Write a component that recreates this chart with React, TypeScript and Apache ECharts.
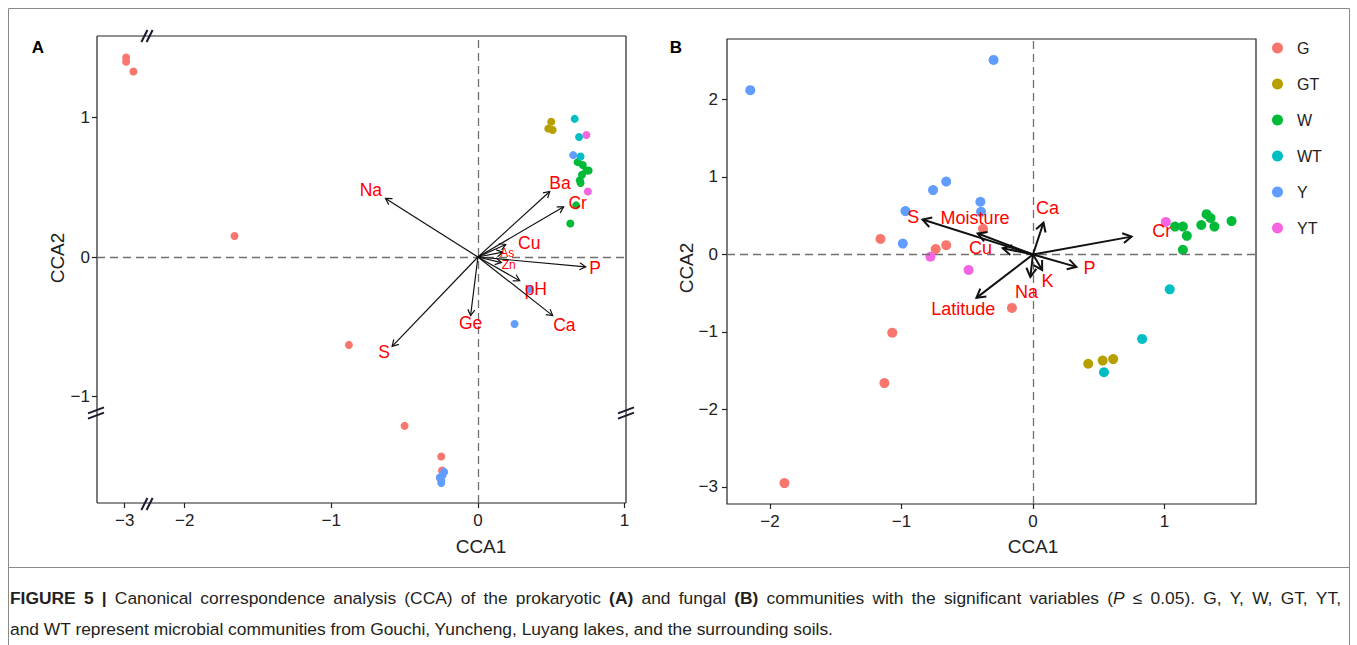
import React, { useEffect, useRef } from "react";
import * as echarts from "echarts";

const FONT = "'Liberation Sans', Arial, sans-serif";
const INK = "#222222";

const GROUPS = ["G", "GT", "W", "WT", "Y", "YT"];
const GROUP_COLORS = ["#F8766D", "#B79F00", "#00BA38", "#00BFC4", "#619CFF", "#F564E3"];

// ---- Panel A: prokaryotic CCA site scores [CCA1, CCA2] ----
const prokG = [
  [-2.99, 1.43], [-2.99, 1.4], [-2.94, 1.33],
  [-1.66, 0.15], [-0.88, -0.63], [-0.5, -1.21], [-0.25, -1.43], [-0.245, -1.53],
];
const prokGT = [[0.5, 0.97], [0.48, 0.92], [0.51, 0.91]];
const prokW = [
  [0.68, 0.68], [0.715, 0.66], [0.74, 0.62], [0.755, 0.62], [0.71, 0.59],
  [0.695, 0.55], [0.7, 0.53], [0.67, 0.37], [0.63, 0.24],
];
const prokWT = [[0.66, 0.99], [0.69, 0.86], [0.7, 0.72]];
const prokY = [
  [-0.23, -1.54], [-0.26, -1.58], [-0.25, -1.6], [-0.25, -1.62], [-0.24, -1.56],
  [0.25, -0.48], [0.65, 0.73], [0.35, -0.23],
];
const prokYT = [[0.74, 0.875], [0.75, 0.47]];

// Panel A environmental vectors (arrow tips) and label anchors
const prokEnv = ["Na", "Ba", "Cr", "Cu", "As", "Zn", "P", "pH", "Ca", "Ge", "S"];
const prokEnvX = [-0.63, 0.49, 0.585, 0.19, 0.17, 0.16, 0.735, 0.285, 0.51, -0.05, -0.585];
const prokEnvY = [0.42, 0.47, 0.36, 0.09, 0.035, -0.04, -0.07, -0.17, -0.42, -0.42, -0.64];
const prokLabelX = [-0.73, 0.56, 0.68, 0.35, 0.2, 0.21, 0.8, 0.395, 0.59, -0.05, -0.64];
const prokLabelY = [0.48, 0.53, 0.39, 0.1, 0.03, -0.06, -0.08, -0.23, -0.49, -0.47, -0.68];

// ---- Panel B: fungal CCA site scores ----
const fungG = [
  [-1.16, 0.2], [-0.74, 0.07], [-0.66, 0.12], [-0.38, 0.33], [-0.16, -0.69],
  [-1.07, -1.01], [-1.13, -1.66], [-1.89, -2.95],
];
const fungGT = [[0.42, -1.41], [0.53, -1.37], [0.61, -1.35]];
const fungW = [
  [1.08, 0.36], [1.14, 0.36], [1.17, 0.24], [1.28, 0.38], [1.32, 0.52],
  [1.35, 0.47], [1.38, 0.36], [1.51, 0.43], [1.14, 0.06],
];
const fungWT = [[1.04, -0.45], [0.83, -1.09], [0.54, -1.52]];
const fungY = [
  [-2.15, 2.12], [-0.3, 2.51], [-0.76, 0.83], [-0.66, 0.94], [-0.97, 0.56],
  [-0.99, 0.14], [-0.4, 0.68], [-0.395, 0.55],
];
const fungYT = [[-0.78, -0.03], [-0.49, -0.2], [1.01, 0.42]];

const fungEnv = ["S", "Moisture", "Cu", "Ca", "Cr", "P", "K", "Na", "Latitude"];
const fungEnvX = [-0.84, -0.42, -0.23, 0.08, 0.75, 0.33, 0.07, -0.02, -0.43];
const fungEnvY = [0.45, 0.27, 0.08, 0.41, 0.23, -0.16, -0.2, -0.29, -0.56];
const fungLabelX = [-0.91, -0.44, -0.4, 0.11, 0.98, 0.43, 0.11, -0.05, -0.53];
const fungLabelY = [0.48, 0.47, 0.08, 0.6, 0.3, -0.17, -0.34, -0.48, -0.7];

// Axis tick values
const prokTicksXFar = [-3];
const prokTicksX = [-2, -1, 0, 1];
const prokTicksY = [-1, 0, 1];
const fungTicksX = [-2, -1, 0, 1];
const fungTicksY = [-3, -2, -1, 0, 1, 2];

// Caption (first line is justified, markup: {b|..} bold, {i|..} italic)
const CAPTION_LINE1 =
  "{b|FIGURE} {b|5} {b||} Canonical correspondence analysis (CCA) of the prokaryotic {b|(A)} and fungal {b|(B)} communities with the significant variables ({i|P} \u2264 0.05). G, Y, W, GT, YT,";
const CAPTION_LINE2 =
  "and WT represent microbial communities from Gouchi, Yuncheng, Luyang lakes, and the surrounding soils.";

// ---- layout ----
const A = { left: 97, right: 626, top: 36, bottom: 503, brk: 148 };
const B = { left: 727, right: 1256, top: 39, bottom: 504 };
const A_FAR = { min: -3.19, max: -2.84 };
const A_MAIN = { min: -2.25, max: 1.01 };
const A_Y = { min: -1.763, max: 1.584 };
const B_X = { min: -2.327, max: 1.696 };
const B_Y = { min: -3.22, max: 2.78 };
const SMALL_LABELS = new Set(["As", "Zn"]);
const CAP = { left: 10, right: 1341, y1: 598, y2: 629, size: 17.4, color: "#231F20" };

const minus = (v: number) => String(v).replace("-", "\u2212");

function valueAxis(gridIndex: number, range: { min: number; max: number }, ticks: number[] | null, margin: number, extra: any = {}) {
  return {
    type: "value",
    gridIndex,
    min: range.min,
    max: range.max,
    splitLine: { show: false },
    axisLine: { show: false, onZero: false },
    axisTick: ticks
      ? { show: true, length: 5, lineStyle: { color: INK, width: 1.2 }, customValues: ticks }
      : { show: false },
    axisLabel: ticks
      ? { show: true, customValues: ticks, formatter: minus, fontSize: 17, fontFamily: FONT, color: INK, margin }
      : { show: false },
    ...extra,
  };
}

function arrowRenderer(names: string[], lw: number, headLen: number, fontSize: number) {
  return (params: any, api: any) => {
    const i = params.dataIndex;
    const o = api.coord([0, 0]);
    const h = api.coord([api.value(0), api.value(1)]);
    const l = api.coord([api.value(2), api.value(3)]);
    const ang = Math.atan2(h[1] - o[1], h[0] - o[0]);
    const spread = Math.PI / 6;
    const p1 = [h[0] - headLen * Math.cos(ang - spread), h[1] - headLen * Math.sin(ang - spread)];
    const p2 = [h[0] - headLen * Math.cos(ang + spread), h[1] - headLen * Math.sin(ang + spread)];
    const name = names[i];
    return {
      type: "group",
      children: [
        { type: "line", shape: { x1: o[0], y1: o[1], x2: h[0], y2: h[1] }, style: { stroke: "#111", lineWidth: lw } },
        { type: "polyline", shape: { points: [p1, h, p2] }, style: { stroke: "#111", fill: "none", lineWidth: lw } },
        {
          type: "text",
          x: l[0],
          y: l[1],
          style: {
            text: name,
            fill: "#FF0000",
            fontSize: SMALL_LABELS.has(name) ? 12 : fontSize,
            fontFamily: FONT,
            align: "center",
            verticalAlign: "middle",
          },
        },
      ],
    };
  };
}

const zeroLine = {
  silent: true,
  symbol: "none",
  label: { show: false },
  lineStyle: { color: "#6f6f6f", type: [8, 5], width: 1.3 },
};

function breakMark(cx: number, cy: number, vertical: boolean) {
  // two short parallel slashes across an axis line
  const items: any[] = [];
  for (const d of [-2.6, 2.6]) {
    const shape = vertical
      ? { x1: cx + d - 3, y1: cy + 6, x2: cx + d + 3, y2: cy - 6 }
      : { x1: cx - 8, y1: cy + d + 3, x2: cx + 8, y2: cy + d - 3 };
    items.push({ type: "line", shape, style: { stroke: "#1a1a2e", lineWidth: 2 }, z: 10 });
  }
  return items;
}

// Split a markup word into styled pieces
function pieces(word: string): { t: string; s: string }[] {
  const out: { t: string; s: string }[] = [];
  const re = /\{([bi])\|([^}]*)\}/g;
  let last = 0;
  let m: RegExpExecArray | null;
  while ((m = re.exec(word))) {
    if (m.index > last) out.push({ t: word.slice(last, m.index), s: "n" });
    out.push({ t: m[2], s: m[1] });
    last = m.index + m[0].length;
  }
  if (last < word.length) out.push({ t: word.slice(last), s: "n" });
  return out;
}

function justifiedLine(text: string, x0: number, x1: number, y: number, size: number, color: string) {
  const ctx = document.createElement("canvas").getContext("2d")!;
  const fontOf = (s: string) =>
    `${s === "i" ? "italic " : ""}${s === "b" ? "bold " : ""}${size}px 'Liberation Sans'`;
  const words = text.split(" ");
  const widths = words.map((w) =>
    pieces(w).reduce((acc, p) => {
      ctx.font = fontOf(p.s);
      return acc + ctx.measureText(p.t).width;
    }, 0)
  );
  const total = widths.reduce((a, b) => a + b, 0);
  const gap = (x1 - x0 - total) / (words.length - 1);
  const rich = {
    b: { fontWeight: "bold", fontSize: size, fontFamily: FONT, fill: color },
    i: { fontStyle: "italic", fontSize: size, fontFamily: FONT, fill: color },
  };
  let x = x0;
  return words.map((w, k) => {
    const el = {
      type: "text",
      x,
      y,
      style: { text: w, rich, fontSize: size, fontFamily: FONT, fill: color, verticalAlign: "middle" },
    };
    x += widths[k] + gap;
    return el;
  });
}

export default function App() {
  const ref = useRef<HTMLDivElement>(null);

  useEffect(() => {
    if (!ref.current) return;
    const chart = echarts.init(ref.current, undefined, { renderer: "svg" });

    const prokSets = [prokG, prokGT, prokW, prokWT, prokY, prokYT];
    const fungSets = [fungG, fungGT, fungW, fungWT, fungY, fungYT];

    const series: any[] = [];

    // far-left segment of panel A (broken x axis)
    series.push({
      type: "scatter",
      name: "G",
      xAxisIndex: 0,
      yAxisIndex: 0,
      symbolSize: 8,
      itemStyle: { color: GROUP_COLORS[0], opacity: 1 },
      data: prokG.filter((p) => p[0] <= A_FAR.max),
      markLine: { ...zeroLine, data: [{ yAxis: 0 }] },
      z: 2,
    });

    prokSets.forEach((set, gi) => {
      series.push({
        type: "scatter",
        name: GROUPS[gi],
        xAxisIndex: 1,
        yAxisIndex: 1,
        symbolSize: 8,
        itemStyle: { color: GROUP_COLORS[gi], opacity: 1 },
        data: set.filter((p) => p[0] > A_FAR.max),
        ...(gi === 0 ? { markLine: { ...zeroLine, data: [{ xAxis: 0 }, { yAxis: 0 }] } } : {}),
        z: 2,
      });
    });

    series.push({
      type: "custom",
      name: "prokEnv",
      xAxisIndex: 1,
      yAxisIndex: 1,
      renderItem: arrowRenderer(prokEnv, 1.2, 7, 17.5),
      data: prokEnv.map((_, i) => [prokEnvX[i], prokEnvY[i], prokLabelX[i], prokLabelY[i]]),
      encode: { x: 0, y: 1 },
      z: 5,
      silent: true,
    });

    fungSets.forEach((set, gi) => {
      series.push({
        type: "scatter",
        name: GROUPS[gi],
        xAxisIndex: 2,
        yAxisIndex: 2,
        symbolSize: 10,
        itemStyle: { color: GROUP_COLORS[gi], opacity: 1 },
        data: set,
        ...(gi === 0 ? { markLine: { ...zeroLine, data: [{ xAxis: 0 }, { yAxis: 0 }] } } : {}),
        z: 2,
      });
    });

    series.push({
      type: "custom",
      name: "fungEnv",
      xAxisIndex: 2,
      yAxisIndex: 2,
      renderItem: arrowRenderer(fungEnv, 2, 10, 18),
      data: fungEnv.map((_, i) => [fungEnvX[i], fungEnvY[i], fungLabelX[i], fungLabelY[i]]),
      encode: { x: 0, y: 1 },
      z: 5,
      silent: true,
    });

    const frameStyle = { stroke: INK, lineWidth: 1.2 };
    const titleStyle = { fill: INK, fontSize: 19, fontFamily: FONT, align: "center", verticalAlign: "middle" };

    const graphic: any[] = [
      // figure frame and caption rule
      { type: "rect", shape: { x: 8.5, y: 8.5, width: 1341, height: 700 }, style: { stroke: "#8a8a8a", fill: "none", lineWidth: 1 } },
      { type: "line", shape: { x1: 8, y1: 567.5, x2: 1350, y2: 567.5 }, style: { stroke: "#8a8a8a", lineWidth: 1 } },
      // panel A box
      { type: "line", shape: { x1: A.left, y1: A.top, x2: A.right, y2: A.top }, style: frameStyle },
      { type: "line", shape: { x1: A.left, y1: A.bottom, x2: A.right, y2: A.bottom }, style: frameStyle },
      { type: "line", shape: { x1: A.left, y1: A.top, x2: A.left, y2: A.bottom }, style: frameStyle },
      { type: "line", shape: { x1: A.right, y1: A.top, x2: A.right, y2: A.bottom }, style: frameStyle },
      ...breakMark(A.brk - 1, A.top, true),
      ...breakMark(A.brk - 1, A.bottom + 1, true),
      ...breakMark(A.left - 1, 413, false),
      ...breakMark(A.right, 413, false),
      // panel letters
      { type: "text", x: 38, y: 47, style: { text: "A", fill: "#000", fontSize: 17, fontWeight: "bold", fontFamily: FONT, align: "center", verticalAlign: "middle" } },
      { type: "text", x: 676, y: 47, style: { text: "B", fill: "#000", fontSize: 17, fontWeight: "bold", fontFamily: FONT, align: "center", verticalAlign: "middle" } },
      // axis titles
      { type: "text", x: 481, y: 546, style: { ...titleStyle, text: "CCA1" } },
      { type: "text", x: 1033, y: 546, style: { ...titleStyle, text: "CCA1" } },
      { type: "text", x: 57, y: 258, rotation: Math.PI / 2, style: { ...titleStyle, text: "CCA2" } },
      { type: "text", x: 686, y: 268, rotation: Math.PI / 2, style: { ...titleStyle, text: "CCA2" } },
      // caption
      ...justifiedLine(CAPTION_LINE1, CAP.left, CAP.right, CAP.y1, CAP.size, CAP.color),
      { type: "text", x: CAP.left, y: CAP.y2, style: { text: CAPTION_LINE2, fontSize: CAP.size, fontFamily: FONT, fill: CAP.color, verticalAlign: "middle" } },
    ];

    chart.setOption({
      animation: false,
      backgroundColor: "#ffffff",
      textStyle: { fontFamily: FONT },
      grid: [
        { left: A.left, top: A.top, width: A.brk - A.left, height: A.bottom - A.top, show: false },
        { left: A.brk, top: A.top, width: A.right - A.brk, height: A.bottom - A.top, show: false },
        {
          left: B.left, top: B.top, width: B.right - B.left, height: B.bottom - B.top,
          show: true, borderColor: INK, borderWidth: 1.2, backgroundColor: "transparent",
        },
      ],
      xAxis: [
        valueAxis(0, A_FAR, prokTicksXFar, 9),
        valueAxis(1, A_MAIN, prokTicksX, 9),
        valueAxis(2, B_X, fungTicksX, 9),
      ],
      yAxis: [
        valueAxis(0, A_Y, prokTicksY, 7),
        valueAxis(1, A_Y, null, 7, { show: false }),
        valueAxis(2, B_Y, fungTicksY, 9),
      ],
      legend: {
        data: GROUPS,
        orient: "vertical",
        left: 1267,
        top: 35,
        icon: "circle",
        itemWidth: 11,
        itemHeight: 11,
        itemGap: 20,
        textStyle: { fontSize: 16, color: INK, fontFamily: FONT, padding: [0, 0, 0, 9] },
      },
      series,
      graphic,
    });

    return () => chart.dispose();
  }, []);

  return (
    <div
      ref={ref}
      style={{ position: "fixed", left: 0, top: 0, width: 1357, height: 645, background: "#fff" }}
    />
  );
}
